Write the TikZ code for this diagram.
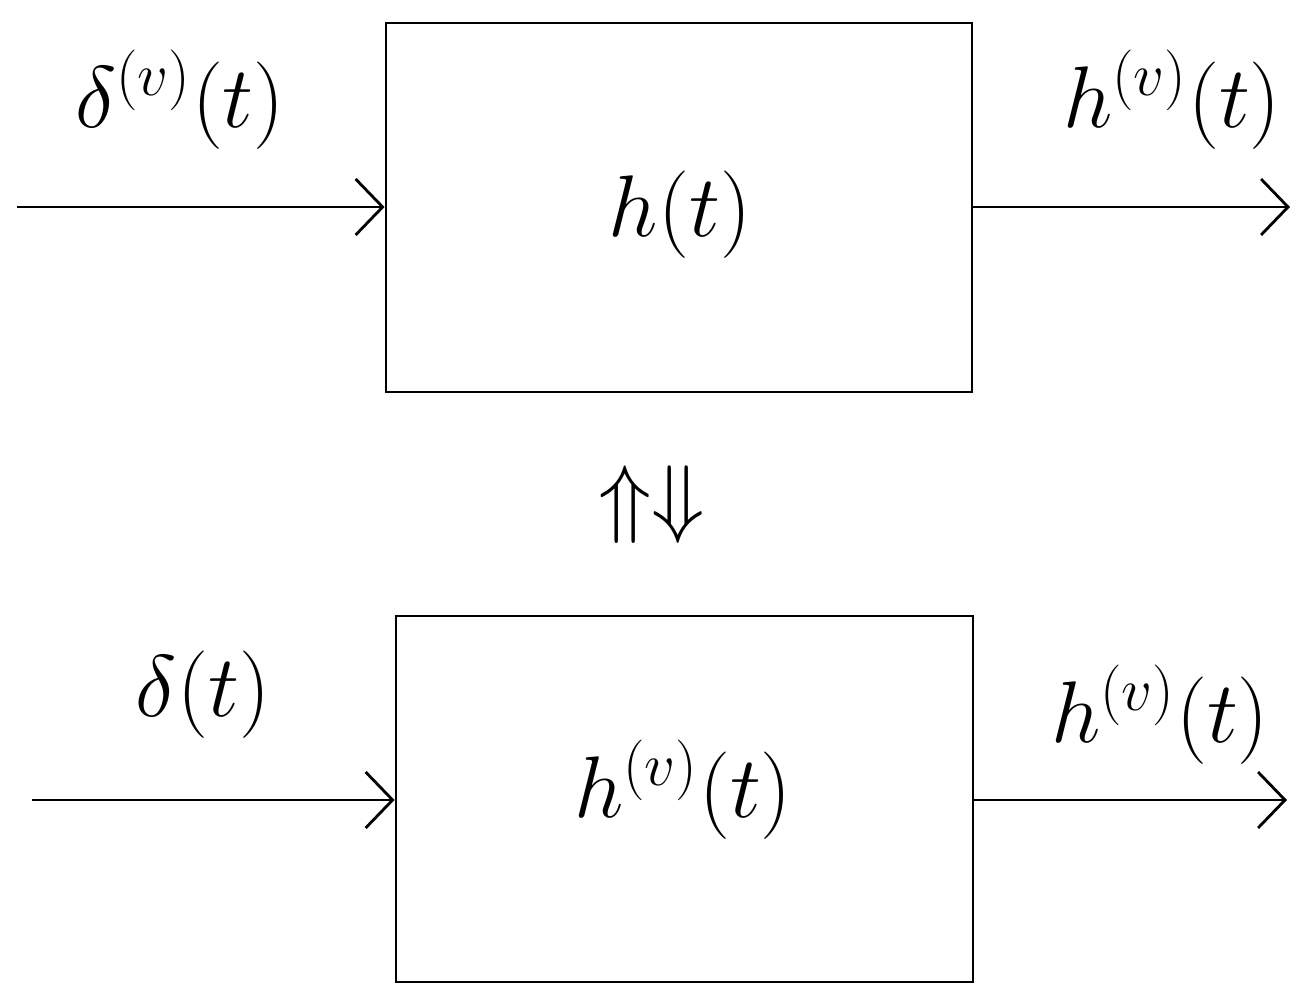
\documentclass[tikz,border=0pt]{standalone}
\usepackage{amsmath,amssymb}
\usepackage{tikz}
\usetikzlibrary{arrows.meta}

\tikzset{
  sysbox/.style={draw, line width=0.8pt, inner sep=0pt},
  sig/.style={-{Straight Barb[length=0.27cm,width=0.56cm]}, line width=0.8pt},
  lbl/.style={font=\fontsize{27}{32}\selectfont}
}

\begin{document}
\begin{tikzpicture}
\useasboundingbox (0,0) rectangle (13.04,10.04);

% Row positions
\def\rowa{7.97}
\def\rowb{2.04}

% Systems
\node[sysbox, minimum width=5.86cm, minimum height=3.69cm] (sysa) at (6.79,7.965) {};
\node[sysbox, minimum width=5.77cm, minimum height=3.66cm] (sysb) at (6.845,2.05) {};

% Inputs and outputs
\coordinate (ina) at (0.17,\rowa);
\coordinate (outa) at (12.90,\rowa);
\coordinate (inb) at (0.32,\rowb);
\coordinate (outb) at (12.87,\rowb);
\draw[sig] (ina) -- (ina -| sysa.west);
\draw[sig] (sysa.east |- outa) -- (outa);
\draw[sig] (inb) -- (inb -| sysb.west);
\draw[sig] (sysb.east |- outb) -- (outb);

% Labels
\node[lbl] (deltava) at (1.80,9.04) {$\delta^{(v)}(t)$};
\node[lbl] (hva) at (11.72,9.04) {$h^{(v)}(t)$};
\node[lbl] (ha) at (6.80,7.89) {$h(t)$};
\node[lbl] (equiv) at (6.52,4.99) {$\Uparrow\Downarrow$};
\node[lbl] (deltab) at (2.03,3.09) {$\delta(t)$};
\node[lbl] (hvb) at (11.60,2.89) {$h^{(v)}(t)$};
\node[lbl] (hb) at (6.83,2.14) {$h^{(v)}(t)$};
\end{tikzpicture}
\end{document}
